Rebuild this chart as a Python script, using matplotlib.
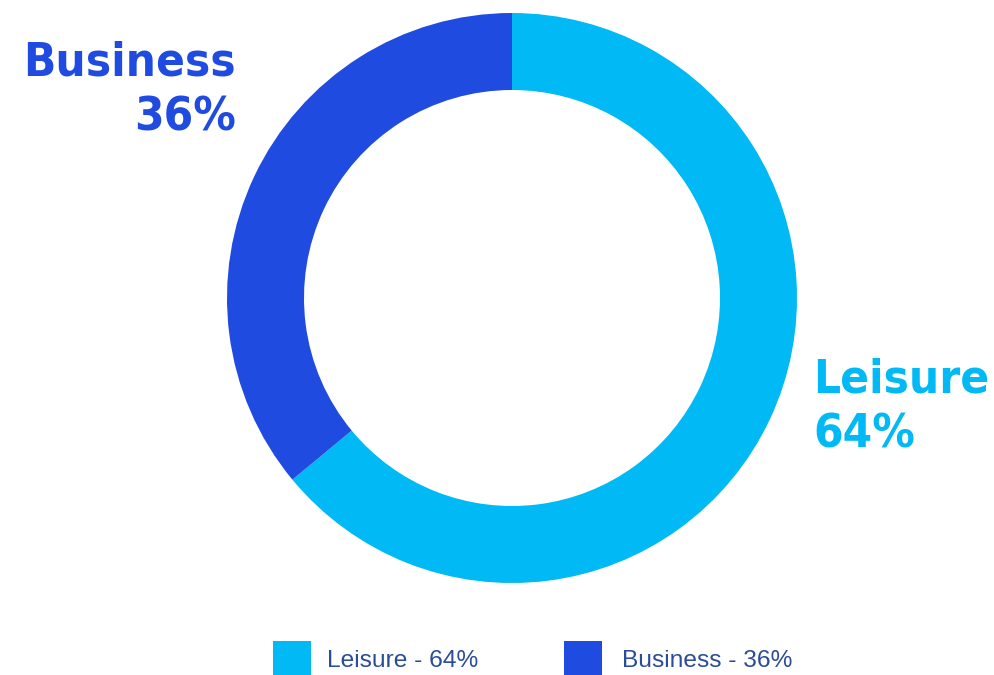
import matplotlib.pyplot as plt
from matplotlib.patches import Rectangle

# Purpose of travel split
labels = ["Leisure", "Business"]
shares = [64, 36]
colors = ["#00B9F5", "#1F4BE0"]
legend_color = "#2B4C96"

W, H = 995, 675
fig = plt.figure(figsize=(W / 100, H / 100), dpi=100)
ax = fig.add_axes([0, 0, 1, 1])

# Donut, starting at 12 o'clock and running clockwise
ax.pie(shares, colors=colors, startangle=90, counterclock=False,
       center=(512, H - 298), radius=285, frame=True,
       wedgeprops=dict(width=77, linewidth=0))
ax.set_xlim(0, W)
ax.set_ylim(0, H)
ax.set_aspect("equal")
ax.axis("off")

renderer = fig.canvas.get_renderer()


def width_at(s, size, **kw):
    t = ax.text(0, 0, s, fontsize=size, **kw)
    w = t.get_window_extent(renderer).width
    t.remove()
    return w


big_font = dict(family="DejaVu Sans", fontstretch="condensed", fontweight="bold")
size = min(100 * 232 / width_at(labels[1], 100, **big_font),
           100 * 176 / width_at(labels[0], 100, **big_font))
cap = 0.73 * size * 100 / 72
gap = 1.6 * cap


def big_label(x, center_y, ha, name, share, color):
    b1 = center_y - (gap - cap) / 2
    ax.text(x, H - b1, name, color=color, ha=ha, va="baseline",
            fontsize=size, **big_font)
    ax.text(x, H - b1 - gap, f"{share}%", color=color, ha=ha, va="baseline",
            fontsize=size, **big_font)


big_label(236, 85.5, "right", labels[1], shares[1], colors[1])
big_label(813, 402.5, "left", labels[0], shares[0], colors[0])

# Legend row at the bottom
leg_font = dict(family="Liberation Sans")
names = [f"{l} - {s}%" for l, s in zip(labels, shares)]
leg_size = 100 * 151 / width_at(names[0], 100, **leg_font)
box_x = [273, 564]
text_x = [327, 622]
for bx, tx, name, c in zip(box_x, text_x, names, colors):
    ax.add_patch(Rectangle((bx, 0), 38, H - 641, facecolor=c, edgecolor="none"))
    ax.text(tx, H - 667, name, color=legend_color, ha="left", va="baseline",
            fontsize=leg_size, **leg_font)

fig.savefig("out.png", dpi=100)
